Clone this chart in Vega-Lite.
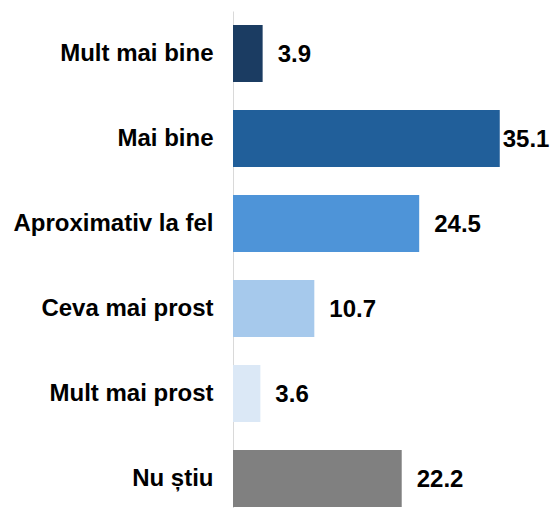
{
  "$schema": "https://vega.github.io/schema/vega-lite/v6.json",
  "autosize": {"type": "none"},
  "width": 304,
  "height": 510,
  "padding": {"left": 233, "top": 11, "right": 13, "bottom": 0},
  "background": "white",
  "config": {"view": {"stroke": null}, "font": "Liberation Sans"},
  "data": {
    "values": [
      {"category": "Mult mai bine", "value": 3.9},
      {"category": "Mai bine", "value": 35.1},
      {"category": "Aproximativ la fel", "value": 24.5},
      {"category": "Ceva mai prost", "value": 10.7},
      {"category": "Mult mai prost", "value": 3.6},
      {"category": "Nu știu", "value": 22.2}
    ]
  },
  "encoding": {
    "y": {
      "field": "category",
      "type": "nominal",
      "sort": null,
      "scale": {"paddingInner": 0.33, "paddingOuter": 0.165},
      "axis": {
        "title": null,
        "ticks": false,
        "labelFontSize": 24,
        "labelFontWeight": "bold",
        "labelColor": "#000000",
        "labelPadding": 20,
        "labelLimit": 300,
        "domainColor": "#d9d9d9",
        "domainWidth": 1
      }
    },
    "x": {
      "field": "value",
      "type": "quantitative",
      "scale": {"domain": [0, 40]},
      "axis": null
    }
  },
  "layer": [
    {
      "mark": {"type": "bar"},
      "encoding": {
        "color": {
          "field": "category",
          "type": "nominal",
          "scale": {
            "domain": ["Mult mai bine", "Mai bine", "Aproximativ la fel", "Ceva mai prost", "Mult mai prost", "Nu știu"],
            "range": ["#1b3c62", "#215f9a", "#4e94d8", "#a6c9ec", "#dbe8f6", "#808080"]
          },
          "legend": null
        }
      }
    },
    {
      "transform": [{"filter": "datum.value < 30"}],
      "mark": {"type": "text", "align": "left", "baseline": "middle", "dx": 15, "dy": 1, "fontSize": 24, "fontWeight": "bold", "color": "#000000"},
      "encoding": {"text": {"field": "value", "type": "quantitative", "format": ".1f"}}
    },
    {
      "transform": [{"filter": "datum.value >= 30"}],
      "mark": {"type": "text", "align": "left", "baseline": "middle", "dx": 3, "dy": 1, "fontSize": 24, "fontWeight": "bold", "color": "#000000"},
      "encoding": {"text": {"field": "value", "type": "quantitative", "format": ".1f"}}
    }
  ]
}
